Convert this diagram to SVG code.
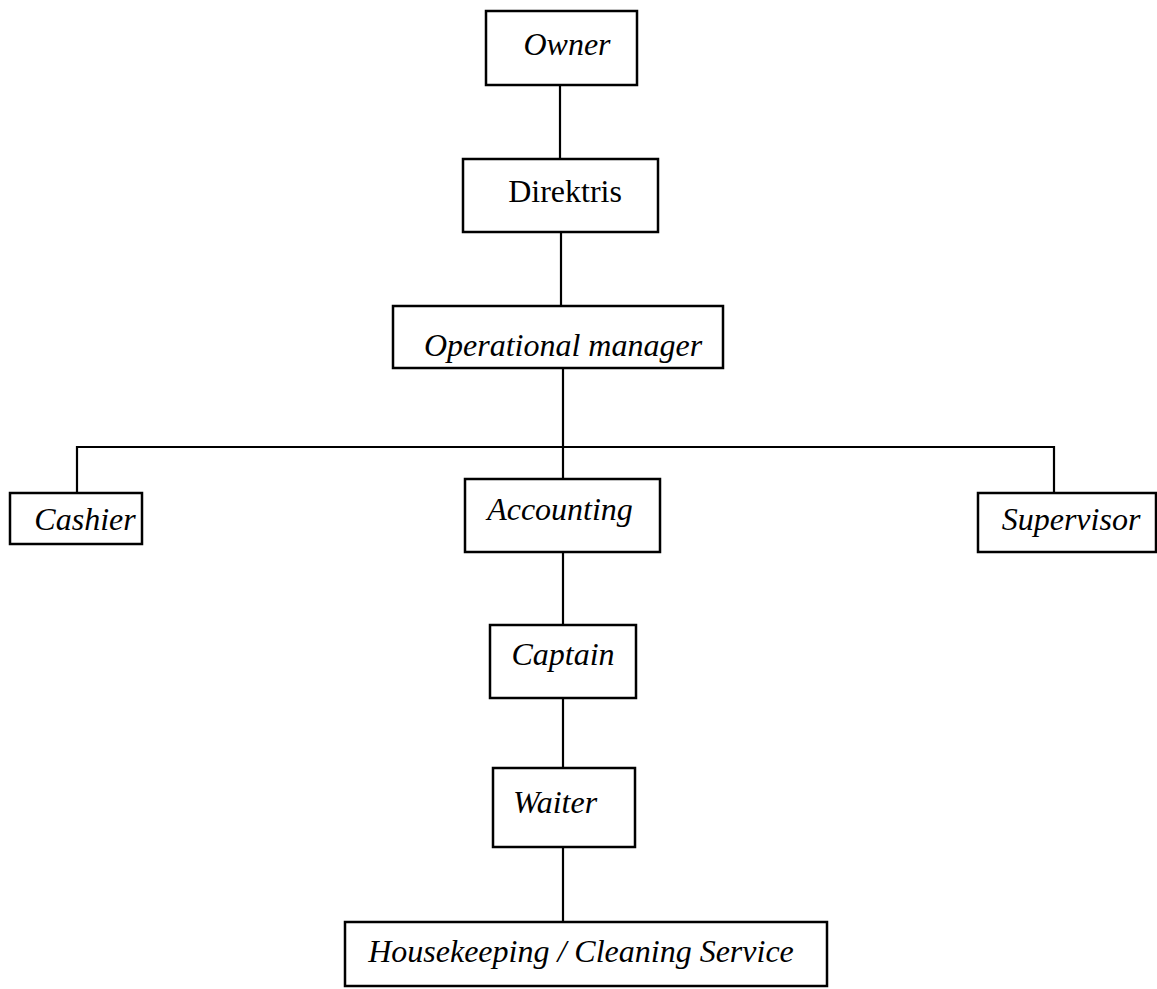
<svg xmlns="http://www.w3.org/2000/svg" width="1157" height="989" viewBox="0 0 1157 989">
<style>
.box{fill:#fff;stroke:#000;stroke-width:2.5}
.lbl{font-family:"Liberation Serif","Times New Roman",serif;font-size:32px;font-style:italic;fill:#000;text-anchor:middle}
.up{font-style:normal}
.con{stroke:#000;stroke-width:2.2;fill:none}
</style>
<rect width="1157" height="989" fill="#fff"/>
<g id="connectors">
<line class="con" x1="560" y1="85" x2="560" y2="159"/>
<line class="con" x1="561" y1="232" x2="561" y2="306"/>
<line class="con" x1="563" y1="368" x2="563" y2="479"/>
<polyline class="con" points="77,493 77,447 1054,447 1054,493"/>
<line class="con" x1="563" y1="552" x2="563" y2="625"/>
<line class="con" x1="563" y1="698" x2="563" y2="768"/>
<line class="con" x1="563" y1="847" x2="563" y2="922"/>
</g>
<g id="owner">
<rect class="box" x="486" y="11" width="151" height="74"/>
<text class="lbl" x="567" y="55">Owner</text>
</g>
<g id="direktris">
<rect class="box" x="463" y="159" width="195" height="73"/>
<text class="lbl up" x="565" y="202">Direktris</text>
</g>
<g id="operational-manager">
<rect class="box" x="393" y="306" width="330" height="62"/>
<text class="lbl" x="563" y="356">Operational manager</text>
</g>
<g id="cashier">
<rect class="box" x="10" y="493" width="132" height="51"/>
<text class="lbl" x="85" y="530">Cashier</text>
</g>
<g id="accounting">
<rect class="box" x="465" y="479" width="195" height="73"/>
<text class="lbl" x="560" y="520">Accounting</text>
</g>
<g id="supervisor">
<rect class="box" x="978" y="493" width="178" height="59"/>
<text class="lbl" x="1071" y="530">Supervisor</text>
</g>
<g id="captain">
<rect class="box" x="490" y="625" width="146" height="73"/>
<text class="lbl" x="563" y="665">Captain</text>
</g>
<g id="waiter">
<rect class="box" x="493" y="768" width="142" height="79"/>
<text class="lbl" x="555" y="813">Waiter</text>
</g>
<g id="housekeeping">
<rect class="box" x="345" y="922" width="482" height="64"/>
<text class="lbl" x="581" y="962">Housekeeping / Cleaning Service</text>
</g>
</svg>
